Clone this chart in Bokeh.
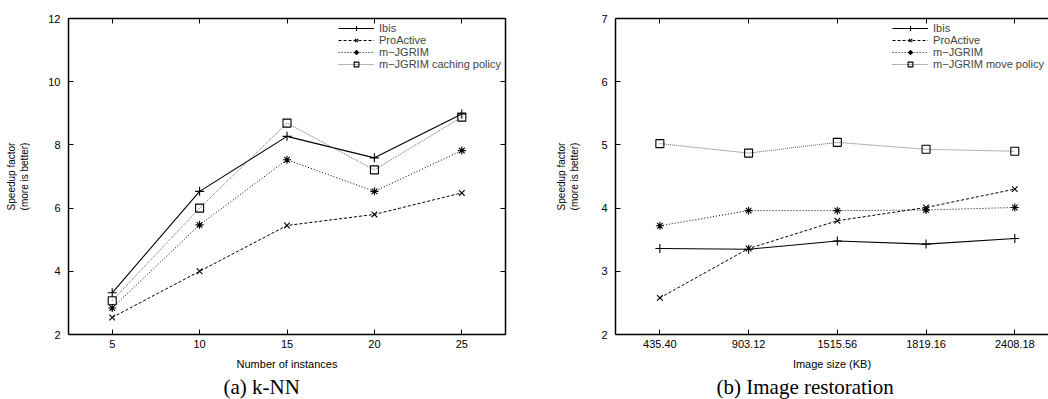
from bokeh.plotting import figure
from bokeh.layouts import row
from bokeh.models import Range1d, FixedTicker, LinearAxis, Legend, LegendItem, Title
from bokeh.embed import file_html
from bokeh.resources import INLINE

# ---- data: (a) k-NN ----
knn_instances = [5, 10, 15, 20, 25]
knn_ibis = [3.32, 6.53, 8.27, 7.59, 8.98]
knn_proactive = [2.54, 4.00, 5.45, 5.80, 6.48]
knn_mjgrim = [2.84, 5.47, 7.53, 6.53, 7.82]
knn_caching = [3.07, 6.00, 8.69, 7.21, 8.88]
knn_yticks = [2, 4, 6, 8, 10, 12]

# ---- data: (b) Image restoration ----
img_sizes = ["435.40", "903.12", "1515.56", "1819.16", "2408.18"]
img_ibis = [3.36, 3.35, 3.48, 3.43, 3.52]
img_proactive = [2.58, 3.36, 3.80, 4.01, 4.30]
img_mjgrim = [3.72, 3.96, 3.96, 3.97, 4.01]
img_move = [5.02, 4.87, 5.04, 4.93, 4.90]
img_yticks = [2, 3, 4, 5, 6, 7]

FONT = "Liberation Sans"

STYLES = [
    dict(marker="cross", dash="solid", color="black", width=1.1, size=9),
    dict(marker="x", dash="3 2", color="black", width=1.0, size=8),
    dict(marker="asterisk", dash="1 2", color="black", width=1.0, size=8),
    dict(marker="square", dash="1 1", color="#555555", width=0.9, size=8),
]


def style_axis(ax, labels=True):
    ax.axis_line_color = "black"
    ax.axis_line_width = 1.5
    ax.major_tick_in = 5
    ax.major_tick_out = 0
    ax.major_tick_line_color = "black"
    ax.minor_tick_line_color = None
    ax.major_label_text_font = FONT
    ax.major_label_text_font_size = "11px"
    ax.major_label_text_color = "black" if labels else None
    ax.axis_label_text_font = FONT
    ax.axis_label_text_font_size = "11px"
    ax.axis_label_text_font_style = "normal"
    ax.axis_label_text_color = "black"


def make_fig(width, mb_left, mb_right, xs, series, names, xr, xticks, yr, yticks,
             xlabel, caption, cap_offset, ylab_standoff, overrides=None, mirror_right=True):
    p = figure(width=width, height=399, output_backend="svg", toolbar_location=None,
               x_range=Range1d(*xr), y_range=Range1d(*yr),
               min_border_left=mb_left, min_border_right=mb_right,
               min_border_top=18, min_border_bottom=65)
    p.outline_line_color = None
    p.grid.visible = False
    p.background_fill_color = "white"
    p.border_fill_color = "white"

    xa = p.xaxis[0]
    ya = p.yaxis[0]
    style_axis(xa)
    style_axis(ya)
    xa.ticker = FixedTicker(ticks=xticks)
    ya.ticker = FixedTicker(ticks=yticks)
    xa.axis_label = xlabel
    xa.major_label_standoff = 5
    xa.axis_label_standoff = 7
    ya.axis_label = "Speedup factor\n(more is better)"
    ya.axis_label_text_font_size = "10px"
    ya.major_label_standoff = 8
    ya.axis_label_standoff = ylab_standoff
    if overrides:
        xa.major_label_overrides = overrides

    top = LinearAxis(ticker=FixedTicker(ticks=xticks))
    style_axis(top, labels=False)
    top.major_label_standoff = 0
    p.add_layout(top, "above")
    if mirror_right:
        right = LinearAxis(ticker=FixedTicker(ticks=yticks))
        style_axis(right, labels=False)
        right.major_label_standoff = 0
        p.add_layout(right, "right")

    items = []
    for ys, name, st in zip(series, names, STYLES):
        r1 = p.line(xs, ys, line_color=st["color"], line_dash=st["dash"], line_width=st["width"])
        r2 = p.scatter(xs, ys, marker=st["marker"], size=st["size"], line_color="black",
                       fill_color=None, line_width=1.1)
        items.append(LegendItem(label=name, renderers=[r1, r2]))
    leg = Legend(items=items, location="top_right")
    leg.label_text_font = FONT
    leg.label_text_font_size = "11px"
    leg.glyph_width = 36
    leg.glyph_height = 12
    leg.label_height = 12
    leg.label_standoff = 5
    leg.spacing = 0
    leg.padding = 2
    leg.margin = 2
    leg.background_fill_alpha = 0
    leg.border_line_alpha = 0
    p.add_layout(leg)

    p.add_layout(Title(text=caption, align="left", offset=cap_offset, standoff=0,
                       text_font="Liberation Serif", text_font_size="21px",
                       text_font_style="normal", text_color="black"), "below")
    return p


p1 = make_fig(540, 68, 35, knn_instances,
              [knn_ibis, knn_proactive, knn_mjgrim, knn_caching],
              ["Ibis", "ProActive", "m\u2212JGRIM", "m\u2212JGRIM caching policy"],
              (2.5, 27.5), knn_instances, (2, 12), knn_yticks,
              "Number of instances", "(a) k-NN", 155, 15)

img_x = list(range(len(img_sizes)))
p2 = make_fig(508, 75, 0, img_x,
              [img_ibis, img_proactive, img_mjgrim, img_move],
              ["Ibis", "ProActive", "m\u2212JGRIM", "m\u2212JGRIM move policy"],
              (-0.5, 4.38), img_x, (2, 7), img_yticks,
              "Image size (KB)", "(b) Image restoration", 101, 18,
              overrides={i: s for i, s in enumerate(img_sizes)}, mirror_right=False)

layout = row(p1, p2)
open("out.html", "w").write(file_html(layout, INLINE))
